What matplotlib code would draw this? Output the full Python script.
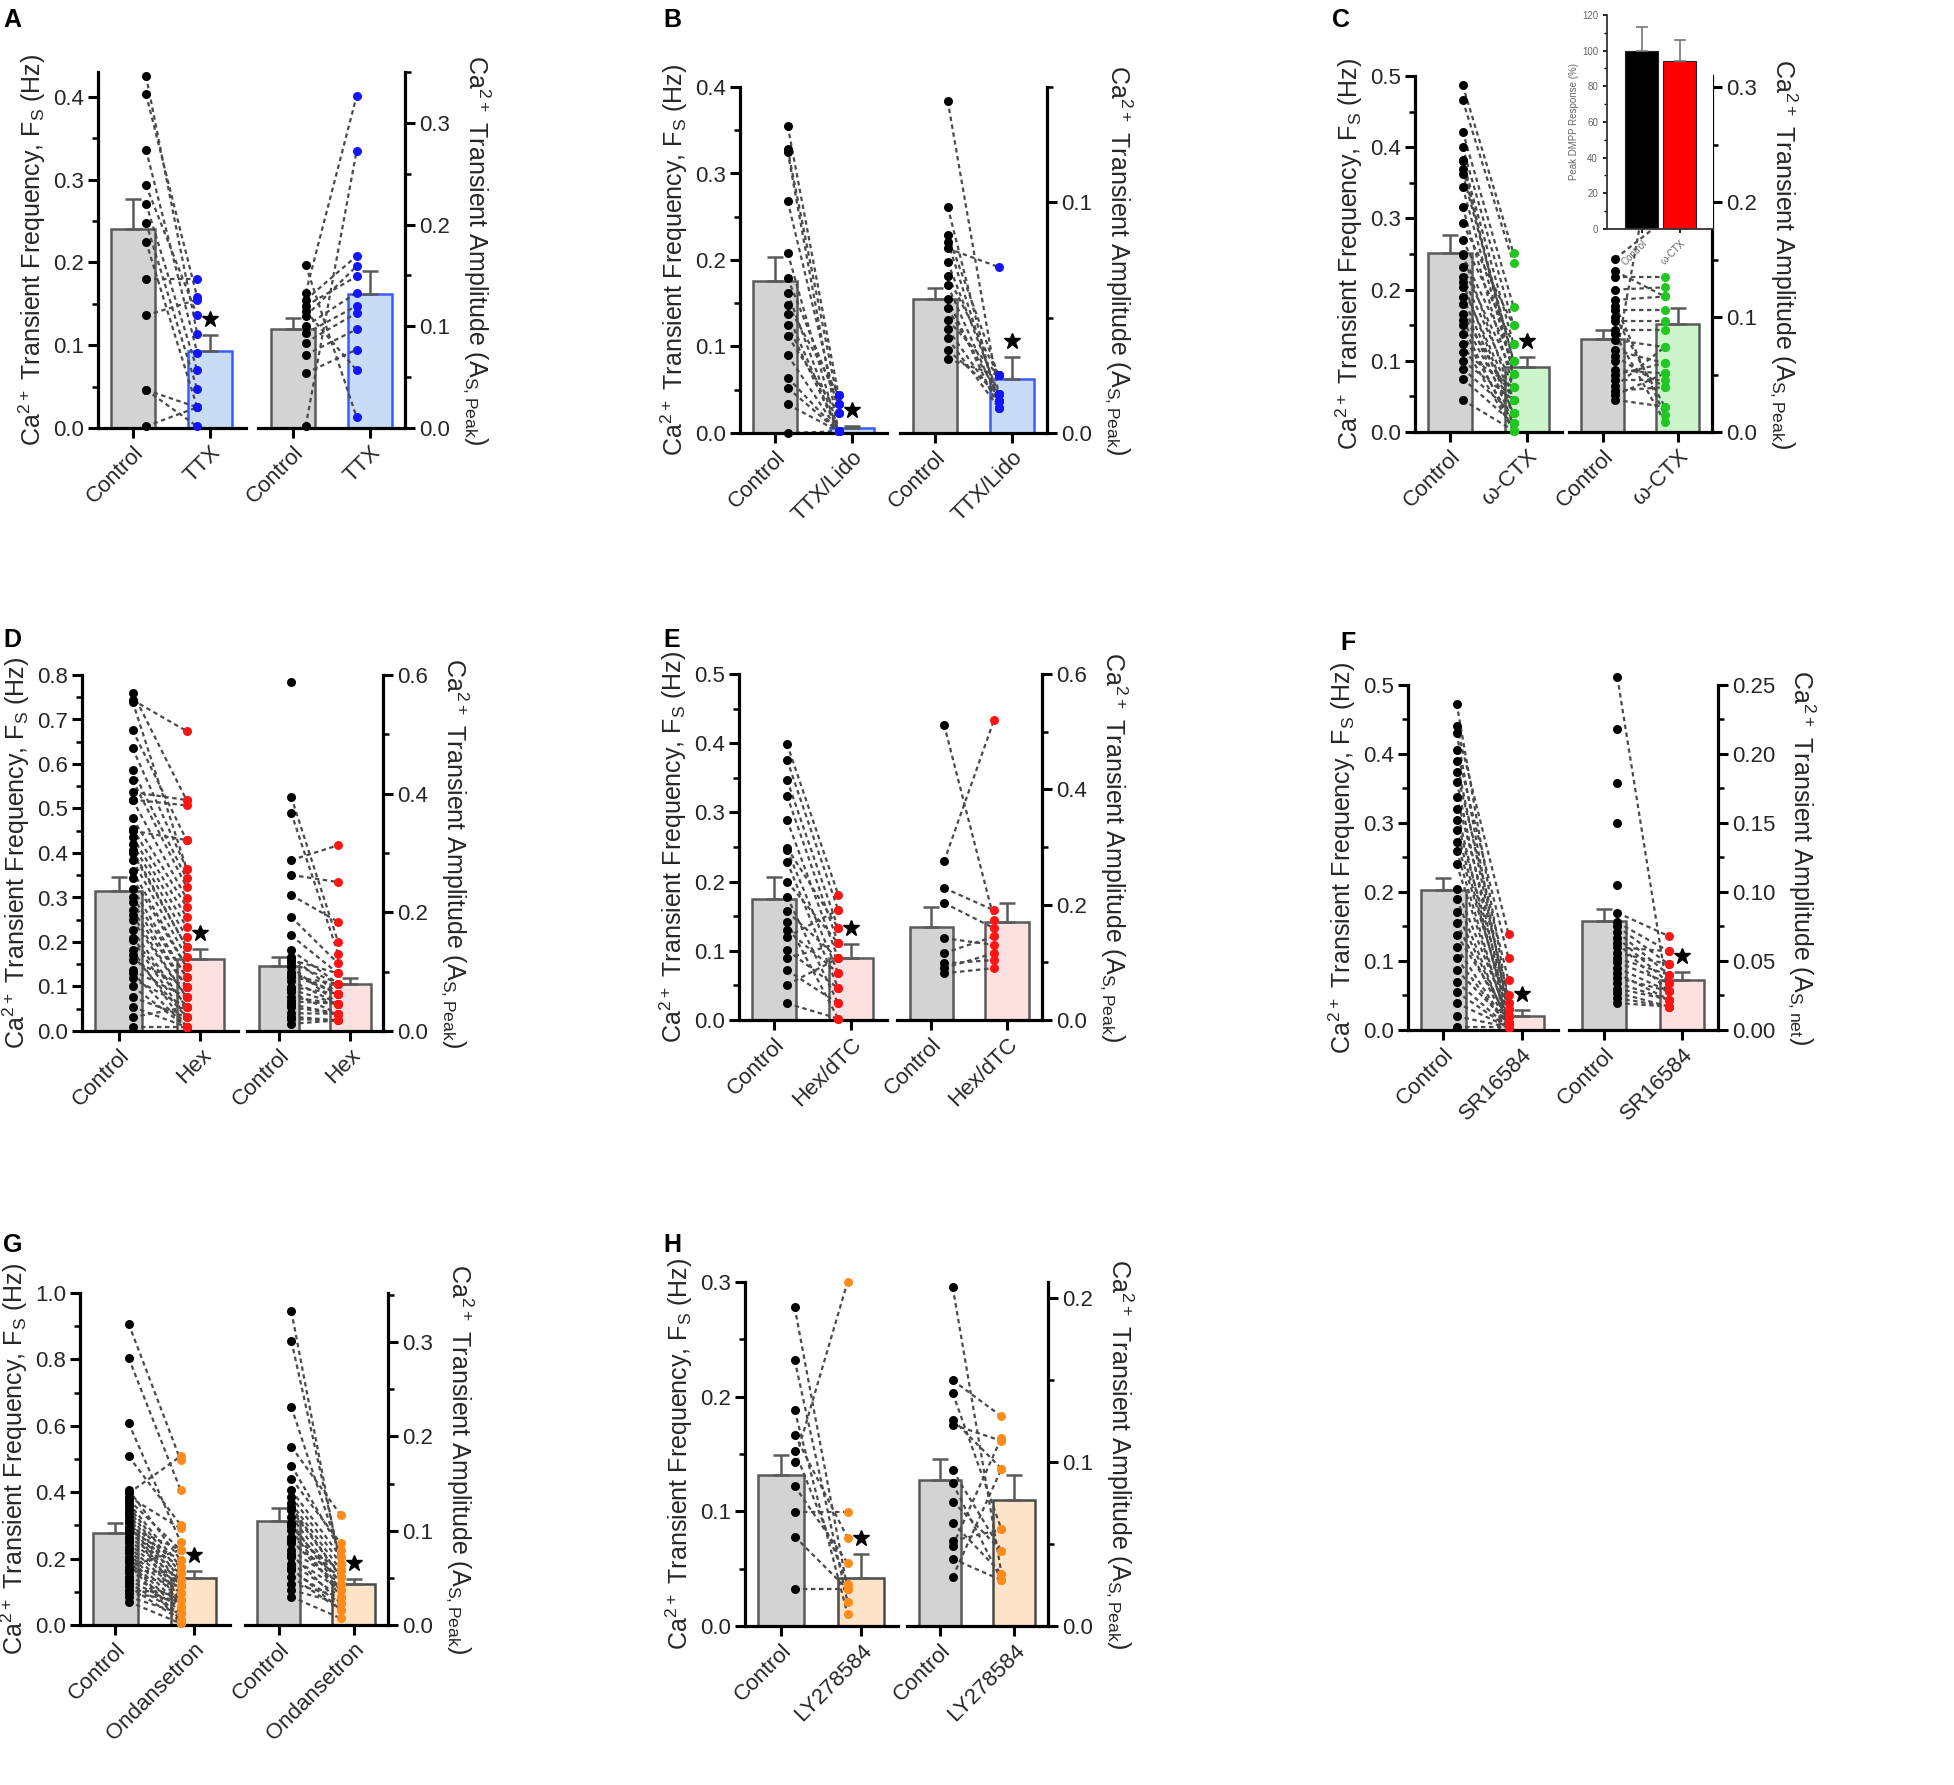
import numpy as np
import matplotlib.pyplot as plt
from matplotlib.ticker import MultipleLocator, FormatStrFormatter
from matplotlib.transforms import offset_copy

plt.rcParams['font.family'] = ['Liberation Sans', 'DejaVu Sans']
plt.rcParams['mathtext.default'] = 'regular'

# ---------------- data ----------------
groups = ['Control', 'TTX', 'TTX/Lido', 'ω-CTX', 'Hex', 'Hex/dTC', 'SR16584', 'Ondansetron', 'LY278584']

# A : TTX
A_freq_ctrl = [0.425, 0.403, 0.336, 0.293, 0.271, 0.248, 0.225, 0.180, 0.136, 0.046, 0.046, 0.002]
A_freq_drug = [0.114, 0.158, 0.091, 0.136, 0.070, 0.047, 0.025, 0.180, 0.155, 0.025, 0.002, 0.025]
A_amp_ctrl = [0.160, 0.133, 0.126, 0.110, 0.093, 0.084, 0.072, 0.054, 0.002, 0.120, 0.100, 0.115]
A_amp_drug = [0.011, 0.326, 0.169, 0.159, 0.120, 0.113, 0.097, 0.077, 0.272, 0.149, 0.133, 0.057]
A_freq_mean, A_freq_sem = [0.240, 0.093], [0.037, 0.019]
A_amp_mean, A_amp_sem = [0.097, 0.132], [0.011, 0.022]

# B : TTX/Lido
B_freq_ctrl = [0.355, 0.328, 0.325, 0.268, 0.208, 0.179, 0.162, 0.148, 0.137, 0.125, 0.112, 0.090, 0.064, 0.052, 0.033, 0.000]
B_freq_drug = [0.044, 0.033, 0.002, 0.023, 0.002, 0.033, 0.002, 0.044, 0.002, 0.002, 0.023, 0.002, 0.002, 0.002, 0.002, 0.002]
B_amp_ctrl = [0.144, 0.098, 0.086, 0.083, 0.080, 0.074, 0.068, 0.064, 0.058, 0.054, 0.049, 0.045, 0.041, 0.036, 0.032]
B_amp_drug = [0.017, 0.011, 0.025, 0.014, 0.072, 0.017, 0.025, 0.014, 0.011, 0.017, 0.025, 0.014, 0.011, 0.017, 0.025]
B_freq_mean, B_freq_sem = [0.176, 0.006], [0.027, 0.002]
B_amp_mean, B_amp_sem = [0.058, 0.0235], [0.005, 0.0095]

# C : omega-conotoxin
C_freq_ctrl = [0.487, 0.466, 0.422, 0.400, 0.382, 0.363, 0.344, 0.316, 0.293, 0.270, 0.248, 0.232, 0.218, 0.204, 0.190,
               0.180, 0.166, 0.157, 0.138, 0.124, 0.112, 0.100, 0.089, 0.075, 0.045, 0.370, 0.380, 0.250, 0.210, 0.150]
C_freq_drug = [0.251, 0.237, 0.176, 0.150, 0.124, 0.100, 0.082, 0.063, 0.150, 0.124, 0.100, 0.082, 0.063, 0.045, 0.026,
               0.012, 0.045, 0.026, 0.012, 0.002, 0.063, 0.045, 0.026, 0.012, 0.002, 0.100, 0.082, 0.045, 0.026, 0.002]
C_amp_ctrl = [0.062, 0.151, 0.135, 0.124, 0.115, 0.106, 0.097, 0.089, 0.080, 0.071, 0.054, 0.045, 0.036, 0.028,
              0.140, 0.110, 0.085, 0.066, 0.050, 0.040, 0.032, 0.100]
C_amp_drug = [0.300, 0.185, 0.135, 0.126, 0.118, 0.106, 0.097, 0.089, 0.074, 0.060, 0.051, 0.045, 0.039, 0.022,
              0.118, 0.0145, 0.0087, 0.039, 0.060, 0.074, 0.051, 0.022]
C_freq_mean, C_freq_sem = [0.252, 0.091], [0.024, 0.014]
C_amp_mean, C_amp_sem = [0.081, 0.094], [0.0075, 0.014]
inset_labels = ['Control', 'ω-CTX']
inset_mean = [100, 94]
inset_sem = [13, 12]

# D : Hexamethonium
D_freq_ctrl = [0.760, 0.744, 0.676, 0.635, 0.586, 0.564, 0.537, 0.519, 0.478, 0.455, 0.436, 0.421, 0.406, 0.384,
               0.343, 0.301, 0.271, 0.249, 0.226, 0.204, 0.181, 0.159, 0.136, 0.118, 0.076, 0.054, 0.031, 0.009,
               0.450, 0.400, 0.520, 0.740, 0.360, 0.320, 0.290, 0.260, 0.210, 0.170, 0.130, 0.100]
D_freq_drug = [0.519, 0.674, 0.429, 0.365, 0.343, 0.324, 0.519, 0.298, 0.279, 0.256, 0.234, 0.211, 0.189, 0.166,
               0.144, 0.121, 0.099, 0.076, 0.054, 0.031, 0.009, 0.099, 0.076, 0.054, 0.031, 0.009, 0.054, 0.009,
               0.429, 0.189, 0.507, 0.365, 0.144, 0.121, 0.099, 0.076, 0.054, 0.031, 0.009, 0.009]
D_amp_ctrl = [0.588, 0.395, 0.368, 0.288, 0.263, 0.229, 0.192, 0.161, 0.136, 0.125, 0.108, 0.091, 0.074, 0.057,
              0.040, 0.024, 0.012, 0.120, 0.100, 0.085, 0.065, 0.050, 0.030, 0.115, 0.095, 0.070, 0.045, 0.020]
D_amp_drug = [np.nan, 0.150, 0.130, 0.313, 0.251, 0.184, 0.114, 0.097, 0.080, 0.063, 0.046, 0.080, 0.063, 0.046,
              0.029, 0.018, 0.018, 0.097, 0.063, 0.046, 0.029, 0.046, 0.029, 0.080, 0.063, 0.046, 0.029, 0.018]
D_freq_mean, D_freq_sem = [0.315, 0.161], [0.032, 0.024]
D_amp_mean, D_amp_sem = [0.110, 0.080], [0.015, 0.010]

# E : Hex/dTC
E_freq_ctrl = [0.399, 0.376, 0.347, 0.324, 0.289, 0.249, 0.246, 0.229, 0.200, 0.178, 0.157, 0.142, 0.130, 0.120,
               0.101, 0.089, 0.072, 0.051, 0.024]
E_freq_drug = [0.181, 0.159, 0.133, 0.111, 0.089, 0.133, 0.068, 0.046, 0.111, 0.024, 0.089, 0.002, 0.068, 0.159,
               0.046, 0.111, 0.024, 0.089, 0.002]
E_amp_ctrl = [0.512, 0.275, 0.229, 0.203, 0.142, 0.116, 0.098, 0.090, 0.081]
E_amp_drug = [0.174, 0.521, 0.190, 0.159, 0.130, 0.145, 0.104, 0.116, 0.090]
E_freq_mean, E_freq_sem = [0.175, 0.090], [0.032, 0.020]
E_amp_mean, E_amp_sem = [0.161, 0.170], [0.035, 0.033]

# F : SR16584
F_freq_ctrl = [0.473, 0.440, 0.430, 0.406, 0.390, 0.374, 0.360, 0.338, 0.320, 0.304, 0.290, 0.273, 0.260, 0.240,
               0.205, 0.190, 0.171, 0.155, 0.138, 0.120, 0.104, 0.087, 0.070, 0.055, 0.039, 0.020, 0.004]
F_freq_drug = [0.039, 0.139, 0.020, 0.104, 0.030, 0.072, 0.010, 0.050, 0.004, 0.039, 0.020, 0.030, 0.004, 0.010,
               0.020, 0.004, 0.010, 0.004, 0.020, 0.004, 0.004, 0.010, 0.004, 0.004, 0.004, 0.004, 0.004]
F_amp_ctrl = [0.2556, 0.218, 0.179, 0.150, 0.105, 0.085, 0.078, 0.075, 0.071, 0.067, 0.063, 0.060, 0.056, 0.052,
              0.049, 0.045, 0.041, 0.038, 0.034, 0.030, 0.027, 0.023, 0.0195]
F_amp_drug = [0.022, np.nan, np.nan, np.nan, np.nan, 0.068, 0.057, 0.0476, 0.040, 0.034, 0.028, 0.057, 0.0476,
              0.040, 0.034, 0.028, 0.022, 0.028, 0.022, 0.022, 0.017, 0.017, 0.017]
F_freq_mean, F_freq_sem = [0.203, 0.021], [0.017, 0.008]
F_amp_mean, F_amp_sem = [0.079, 0.036], [0.009, 0.006]

# G : Ondansetron
G_freq_ctrl = [0.907, 0.804, 0.608, 0.508, 0.407, 0.397, 0.387, 0.377, 0.367, 0.357, 0.347, 0.337, 0.327, 0.317,
               0.307, 0.296, 0.286, 0.276, 0.266, 0.256, 0.246, 0.236, 0.226, 0.216, 0.206, 0.196, 0.186, 0.176,
               0.166, 0.156, 0.146, 0.136, 0.126, 0.116, 0.106, 0.096, 0.085, 0.070]
G_freq_drug = [0.497, 0.407, 0.251, 0.302, 0.196, 0.508, 0.291, 0.226, 0.176, 0.156, 0.136, 0.116, 0.095, 0.075,
               0.055, 0.226, 0.196, 0.176, 0.156, 0.136, 0.116, 0.095, 0.075, 0.055, 0.035, 0.015, 0.005, 0.226,
               0.156, 0.116, 0.075, 0.055, 0.035, 0.015, 0.095, 0.075, 0.035, 0.005]
G_amp_ctrl = [0.3325, 0.301, 0.231, 0.189, 0.169, 0.155, 0.143, 0.136, 0.129, 0.122, 0.115, 0.108, 0.1006, 0.0935,
              0.0865, 0.079, 0.072, 0.065, 0.058, 0.051, 0.044, 0.037, 0.030, 0.125, 0.105, 0.090, 0.075, 0.060]
G_amp_drug = [0.058, 0.065, 0.072, 0.1165, 0.079, 0.0865, 0.072, 0.065, 0.058, 0.051, 0.044, 0.037, 0.030, 0.058,
              0.051, 0.044, 0.037, 0.030, 0.023, 0.016, 0.030, 0.023, 0.007, 0.051, 0.044, 0.037, 0.023, 0.016]
G_freq_mean, G_freq_sem = [0.278, 0.141], [0.029, 0.023]
G_amp_mean, G_amp_sem = [0.110, 0.043], [0.014, 0.006]

# H : LY278584
H_freq_ctrl = [0.278, 0.232, 0.188, 0.167, 0.153, 0.143, 0.122, 0.099, 0.078, 0.032]
H_freq_drug = [0.032, 0.021, 0.0103, 0.077, 0.037, 0.300, 0.055, 0.099, 0.032, 0.032]
H_amp_ctrl = [0.2067, 0.150, 0.142, 0.126, 0.123, 0.095, 0.087, 0.076, 0.063, 0.052, 0.049, 0.041, 0.030]
H_amp_drug = [0.032, 0.128, 0.059, 0.096, 0.113, 0.046, 0.028, 0.046, 0.032, 0.059, 0.115, 0.028, 0.096]
H_freq_mean, H_freq_sem = [0.132, 0.042], [0.017, 0.021]
H_amp_mean, H_amp_sem = [0.089, 0.077], [0.013, 0.015]

# ---------------- figure ----------------
W, H = 1954, 1785
fig = plt.figure(figsize=(W / 100, H / 100), dpi=100)

def box(x0, x1, top, bottom):
    return [x0 / W, 1 - bottom / H, (x1 - x0) / W, (bottom - top) / H]

FS = 16      # tick labels
LS = 18      # axis titles
TXT = '#262626'
freq_label = r'Ca$^{2+}$ Transient Frequency, F$_S$ (Hz)'

def style(ax, side, ylim, major, fmt, labels):
    ax.set_xlim(-0.45, 1.46)
    ax.set_ylim(*ylim)
    for s in ax.spines.values():
        s.set_linewidth(2.3)
        s.set_color('black')
    ax.spines['top'].set_visible(False)
    if side == 'left':
        ax.spines['right'].set_visible(False)
    else:
        ax.spines['left'].set_visible(False)
        ax.yaxis.tick_right()
        ax.yaxis.set_label_position('right')
    ax.yaxis.set_major_locator(MultipleLocator(major))
    ax.yaxis.set_minor_locator(MultipleLocator(major / 2))
    ax.yaxis.set_major_formatter(FormatStrFormatter(fmt))
    ax.tick_params(axis='both', which='major', direction='out', length=7, width=2.2,
                   labelsize=FS, labelcolor=TXT, pad=3)
    ax.tick_params(axis='y', which='minor', direction='out', length=4, width=1.8)
    ax.set_xticks([0, 1])
    ax.set_xticklabels(labels, rotation=45, ha='right', rotation_mode='anchor')
    ax.patch.set_alpha(0)

def paired(ax, ctrl, drug, mean, sem, dot, fill, edge, star):
    ax.bar([0, 1], mean, width=0.57, color=['#d3d3d3', fill], edgecolor=['#5a5a5a', edge],
           linewidth=1.8, zorder=1)
    ax.errorbar([0, 1], mean, yerr=[[0, 0], sem], fmt='none', ecolor='#5a5a5a',
                elinewidth=1.8, capsize=6, capthick=1.8, zorder=1.5)
    for c, d in zip(ctrl, drug):
        if np.isnan(d):
            continue
        ax.plot([0.17, 0.83], [c, d], ls=(0, (2.0, 1.6)), color='#4a4a4a', lw=1.6, zorder=2)
    ax.plot(np.full(len(ctrl), 0.17), ctrl, 'o', color='black', ms=6.5, mec='none', zorder=3, clip_on=False)
    ax.plot(np.full(len(drug), 0.83), drug, 'o', color=dot, ms=6.5, mec='none', zorder=3, clip_on=False)
    if star:
        tr = offset_copy(ax.transData, fig=fig, x=0, y=16, units='dots')
        ax.plot(1, mean[1] + sem[1], marker='*', color='black', ms=12, mec='black', transform=tr, zorder=4)

panels = [
    dict(letter='A', lxy=(3, 8), lbox=(98, 246), rbox=(258, 405), top=72, bottom=428, drug=groups[1],
         fc=A_freq_ctrl, fd=A_freq_drug, fm=A_freq_mean, fs=A_freq_sem, flim=(0, 0.43), fmaj=0.1, ffmt='%.1f', fstar=True,
         ac=A_amp_ctrl, ad=A_amp_drug, am=A_amp_mean, asem=A_amp_sem, alim=(0, 0.35), amaj=0.1, afmt='%.1f', astar=False,
         tag='S,Peak', dot='#1414ff', fill='#c8dcf6', edge='#3b5bff'),
    dict(letter='B', lxy=(663, 8), lbox=(740, 887), rbox=(900, 1047), top=87, bottom=433, drug=groups[2],
         fc=B_freq_ctrl, fd=B_freq_drug, fm=B_freq_mean, fs=B_freq_sem, flim=(0, 0.4), fmaj=0.1, ffmt='%.1f', fstar=True,
         ac=B_amp_ctrl, ad=B_amp_drug, am=B_amp_mean, asem=B_amp_sem, alim=(0, 0.15), amaj=0.1, afmt='%.1f', astar=True,
         tag='S,Peak', dot='#1414ff', fill='#c8dcf6', edge='#3b5bff'),
    dict(letter='C', lxy=(1332, 8), lbox=(1415, 1562), rbox=(1569, 1712), top=76, bottom=432, drug=groups[3],
         fc=C_freq_ctrl, fd=C_freq_drug, fm=C_freq_mean, fs=C_freq_sem, flim=(0, 0.5), fmaj=0.1, ffmt='%.1f', fstar=True,
         ac=C_amp_ctrl, ad=C_amp_drug, am=C_amp_mean, asem=C_amp_sem, alim=(0, 0.31), amaj=0.1, afmt='%.1f', astar=False,
         tag='S,Peak', dot='#1ec81e', fill='#ccf5cc', edge='#5a5a5a'),
    dict(letter='D', lxy=(3, 628), lbox=(82, 238), rbox=(247, 383), top=675, bottom=1031, drug=groups[4],
         fc=D_freq_ctrl, fd=D_freq_drug, fm=D_freq_mean, fs=D_freq_sem, flim=(0, 0.8), fmaj=0.1, ffmt='%.1f', fstar=True,
         ac=D_amp_ctrl, ad=D_amp_drug, am=D_amp_mean, asem=D_amp_sem, alim=(0, 0.6), amaj=0.2, afmt='%.1f', astar=False,
         tag='S,Peak', dot='#ff1414', fill='#fde0e0', edge='#5a5a5a'),
    dict(letter='E', lxy=(663, 628), lbox=(739, 887), rbox=(897, 1042), top=674, bottom=1020, drug=groups[5],
         fc=E_freq_ctrl, fd=E_freq_drug, fm=E_freq_mean, fs=E_freq_sem, flim=(0, 0.5), fmaj=0.1, ffmt='%.1f', fstar=True,
         ac=E_amp_ctrl, ad=E_amp_drug, am=E_amp_mean, asem=E_amp_sem, alim=(0, 0.6), amaj=0.2, afmt='%.1f', astar=False,
         tag='S,Peak', dot='#ff1414', fill='#fde0e0', edge='#5a5a5a'),
    dict(letter='F', lxy=(1340, 631), lbox=(1408, 1558), rbox=(1569, 1718), top=685, bottom=1030, drug=groups[6],
         fc=F_freq_ctrl, fd=F_freq_drug, fm=F_freq_mean, fs=F_freq_sem, flim=(0, 0.5), fmaj=0.1, ffmt='%.1f', fstar=True,
         ac=F_amp_ctrl, ad=F_amp_drug, am=F_amp_mean, asem=F_amp_sem, alim=(0, 0.25), amaj=0.05, afmt='%.2f', astar=True,
         tag='S,net', dot='#ff1414', fill='#fde0e0', edge='#5a5a5a'),
    dict(letter='G', lxy=(3, 1233), lbox=(80, 230), rbox=(245, 388), top=1293, bottom=1625, drug=groups[7],
         fc=G_freq_ctrl, fd=G_freq_drug, fm=G_freq_mean, fs=G_freq_sem, flim=(0, 1.0), fmaj=0.2, ffmt='%.1f', fstar=True,
         ac=G_amp_ctrl, ad=G_amp_drug, am=G_amp_mean, asem=G_amp_sem, alim=(0, 0.352), amaj=0.1, afmt='%.1f', astar=True,
         tag='S,Peak', dot='#ff8c1a', fill='#fde3c8', edge='#4a4a4a'),
    dict(letter='H', lxy=(663, 1233), lbox=(745, 898), rbox=(907, 1048), top=1282, bottom=1626, drug=groups[8],
         fc=H_freq_ctrl, fd=H_freq_drug, fm=H_freq_mean, fs=H_freq_sem, flim=(0, 0.3), fmaj=0.1, ffmt='%.1f', fstar=True,
         ac=H_amp_ctrl, ad=H_amp_drug, am=H_amp_mean, asem=H_amp_sem, alim=(0, 0.21), amaj=0.1, afmt='%.1f', astar=False,
         tag='S,Peak', dot='#ff8c1a', fill='#fde3c8', edge='#4a4a4a'),
]

for p in panels:
    labels = [groups[0], p['drug']]
    axl = fig.add_axes(box(*p['lbox'], p['top'], p['bottom']))
    paired(axl, p['fc'], p['fd'], p['fm'], p['fs'], p['dot'], p['fill'], p['edge'], p['fstar'])
    style(axl, 'left', p['flim'], p['fmaj'], p['ffmt'], labels)
    axl.set_ylabel(freq_label, fontsize=LS, color=TXT, labelpad=4)

    axr = fig.add_axes(box(*p['rbox'], p['top'], p['bottom']))
    paired(axr, p['ac'], p['ad'], p['am'], p['asem'], p['dot'], p['fill'], p['edge'], p['astar'])
    style(axr, 'right', p['alim'], p['amaj'], p['afmt'], labels)
    axr.set_ylabel(r'Ca$^{2+}$ Transient Amplitude (A$_{%s}$)' % p['tag'], fontsize=LS, color=TXT,
                   rotation=270, va='bottom', labelpad=8)

    fig.text(p['lxy'][0] / W, 1 - p['lxy'][1] / H, p['letter'], fontsize=18, fontweight='bold', va='top')

# inset in panel C
axi = fig.add_axes(box(1607, 1713, 15, 229))
axi.bar([0, 1], inset_mean, width=0.87, color=['black', '#ff0000'], edgecolor='#222222', linewidth=0.8)
axi.errorbar([0, 1], inset_mean, yerr=[[0, 0], inset_sem], fmt='none', ecolor='#777777',
             elinewidth=1.2, capsize=4, capthick=1.2)
axi.set_xlim(-0.92, 1.87)
axi.set_ylim(0, 120)
axi.yaxis.set_major_locator(MultipleLocator(20))
axi.yaxis.set_minor_locator(MultipleLocator(10))
for s in ['top', 'right']:
    axi.spines[s].set_visible(False)
for s in ['left', 'bottom']:
    axi.spines[s].set_linewidth(1.3)
    axi.spines[s].set_color('#333333')
axi.tick_params(axis='both', which='major', direction='out', length=3, width=1.2, labelsize=7, labelcolor='#666666')
axi.tick_params(axis='y', which='minor', direction='out', length=2, width=1)
axi.set_xticks([0, 1])
axi.set_xticklabels(inset_labels, rotation=45, ha='right', rotation_mode='anchor')
axi.set_ylabel('Peak DMPP Response (%)', fontsize=7, color='#666666', labelpad=2)

fig.savefig('out.png', dpi=100)
